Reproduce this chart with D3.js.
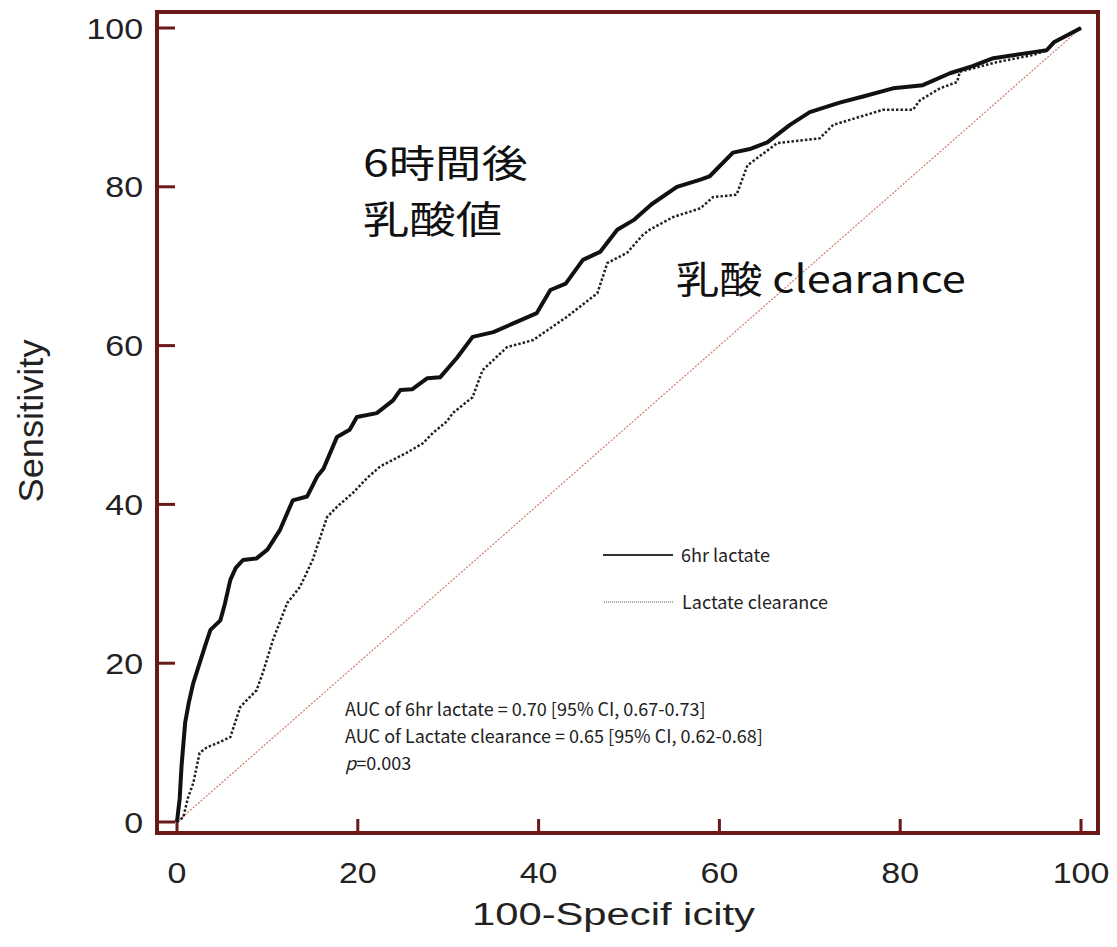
<!DOCTYPE html>
<html>
<head>
<meta charset="utf-8">
<script src="https://cdn.jsdelivr.net/npm/d3@7"></script>
<style>
  body { margin: 0; background: #fff; }
  svg { display: block; }
</style>
</head>
<body>
<div id="chart"></div>
<script>
// tick values on both axes
var xTicks = [0, 20, 40, 60, 80, 100];
var yTicks = [0, 20, 40, 60, 80, 100];

// ROC curve for 6hr lactate: [100-specificity, sensitivity]
var lactate6hr = [
  [0, 0], [0.3, 3], [0.5, 7], [0.9, 12.5], [1.3, 15], [1.8, 17.5], [2.5, 20],
  [3.2, 22.5], [3.7, 24.2], [4.8, 25.4], [5.3, 27.5], [5.9, 30.5], [6.5, 32],
  [7.3, 33], [8.8, 33.2], [10, 34.3], [11.4, 36.8], [12.8, 40.5], [14.4, 41],
  [15.5, 43.5], [16.2, 44.5], [17.7, 48.5], [19.1, 49.4], [19.9, 51], [22.1, 51.5],
  [23.9, 53.1], [24.7, 54.4], [26, 54.5], [27.7, 55.9], [29.1, 56], [31, 58.5],
  [32.7, 61.1], [35, 61.7], [37.2, 62.8], [39.8, 64.1], [41.3, 67], [43, 67.8],
  [44.9, 70.8], [46.8, 71.8], [48.7, 74.6], [50.5, 75.8], [52.5, 77.8], [55.3, 80],
  [57.9, 80.9], [58.9, 81.3], [61.5, 84.3], [63.5, 84.8], [65.3, 85.6], [67.8, 87.8],
  [70, 89.4], [73.3, 90.6], [76, 91.4], [79.2, 92.4], [82.5, 92.8], [85.5, 94.3],
  [88, 95.2], [90.3, 96.2], [94.4, 96.9], [96.2, 97.2], [97, 98.2], [100, 100]
];

// ROC curve for lactate clearance
var lactateClearance = [
  [0, 0], [0.7, 0.6], [1.2, 3], [1.8, 4.9], [2.5, 8.7], [3.3, 9.4], [4.4, 9.9],
  [5.9, 10.7], [7, 14.5], [8.8, 16.6], [9.5, 18.8], [10.6, 22.9], [12.2, 27.6],
  [13.6, 29.6], [15, 33], [16.6, 38.4], [17.7, 39.7], [19.5, 41.5], [21, 43.3],
  [22.5, 44.8], [25.4, 46.5], [27.2, 47.7], [28.3, 49], [29.9, 50.5], [30.5, 51.5],
  [32.7, 53.5], [33.8, 56.9], [36.5, 59.8], [39.4, 60.7], [43.1, 63.6], [46.5, 66.6],
  [47.6, 70.4], [49.8, 71.7], [51.5, 73.9], [52.3, 74.6], [54.9, 76.2], [57.9, 77.3],
  [59.3, 78.7], [61.9, 79], [63.1, 82.7], [66.4, 85.5], [71.1, 86.1], [72.6, 87.8],
  [78.1, 89.7], [81.4, 89.7], [82.2, 90.9], [84.4, 92.4], [86.3, 93.2], [86.6, 94.5],
  [90.7, 95.7], [94.7, 96.6], [96.2, 97.2], [97, 98.2], [100, 100]
];

// chance line
var diagonal = [[0, 0], [100, 100]];

var legendLabels = ["6hr lactate", "Lactate clearance"];
var aucLines = [
  "AUC of 6hr lactate = 0.70 [95% CI, 0.67-0.73]",
  "AUC of Lactate clearance = 0.65 [95% CI, 0.62-0.68]"
];

var W = 1117, H = 947;
var frameColor = "#6b1818";
var axisFont = "'Liberation Sans', Arial, sans-serif";
var stretch = 1.17; // the source picture is a bit wider than tall

var svg = d3.select("#chart").append("svg")
  .attr("width", W)
  .attr("height", H);

var x = d3.scaleLinear().domain([0, 100]).range([177, 1081]);
var y = d3.scaleLinear().domain([0, 100]).range([822, 28]);

// frame box
svg.append("rect")
  .attr("x", 157).attr("y", 12)
  .attr("width", 1098 - 157).attr("height", 833 - 12)
  .attr("fill", "none")
  .attr("stroke", frameColor)
  .attr("stroke-width", 4);

// y ticks (inward from frame)
svg.append("g")
  .selectAll("line")
  .data(yTicks)
  .enter()
  .append("line")
  .attr("x1", 157).attr("x2", 175)
  .attr("y1", (d) => y(d)).attr("y2", (d) => y(d))
  .attr("stroke", frameColor)
  .attr("stroke-width", 3);

svg.append("g")
  .selectAll("text")
  .data(yTicks)
  .enter()
  .append("text")
  .attr("transform", (d) => `translate(143,${y(d) + 10.5}) scale(${stretch},1)`)
  .attr("text-anchor", "end")
  .style("font-family", axisFont)
  .style("font-size", "29px")
  .style("fill", "#222")
  .text((d) => d);

// x ticks
svg.append("g")
  .selectAll("line")
  .data(xTicks)
  .enter()
  .append("line")
  .attr("x1", (d) => x(d)).attr("x2", (d) => x(d))
  .attr("y1", 833).attr("y2", 819)
  .attr("stroke", frameColor)
  .attr("stroke-width", 3);

svg.append("g")
  .selectAll("text")
  .data(xTicks)
  .enter()
  .append("text")
  .attr("transform", (d) => `translate(${x(d)},883) scale(${stretch},1)`)
  .attr("text-anchor", "middle")
  .style("font-family", axisFont)
  .style("font-size", "29px")
  .style("fill", "#222")
  .text((d) => d);

// axis titles
svg.append("text")
  .attr("x", 472).attr("y", 925)
  .attr("textLength", 283)
  .attr("lengthAdjust", "spacingAndGlyphs")
  .style("font-family", axisFont)
  .style("font-size", "31px")
  .style("fill", "#222")
  .text("100-Specif icity");

svg.append("text")
  .attr("transform", `translate(43,421) rotate(-90) scale(1,${stretch})`)
  .attr("text-anchor", "middle")
  .attr("textLength", 163)
  .attr("lengthAdjust", "spacingAndGlyphs")
  .style("font-family", axisFont)
  .style("font-size", "30px")
  .style("fill", "#222")
  .text("Sensitivity");

var line = d3.line()
  .x((d) => x(d[0]))
  .y((d) => y(d[1]));

// reference diagonal
svg.append("path")
  .datum(diagonal)
  .attr("d", line)
  .attr("fill", "none")
  .attr("stroke", "#cf7b6c")
  .attr("stroke-width", 1.2)
  .attr("stroke-dasharray", "2,1.5");

// lactate clearance (dotted)
svg.append("path")
  .datum(lactateClearance)
  .attr("d", line)
  .attr("fill", "none")
  .attr("stroke", "#222")
  .attr("stroke-width", 2.5)
  .attr("stroke-dasharray", "2.5,2");

// 6hr lactate (solid)
svg.append("path")
  .datum(lactate6hr)
  .attr("d", line)
  .attr("fill", "none")
  .attr("stroke", "#111")
  .attr("stroke-width", 4)
  .attr("stroke-linejoin", "round");

// legend
var legend = svg.append("g");
legend.append("line")
  .attr("x1", 603).attr("x2", 673)
  .attr("y1", 555).attr("y2", 555)
  .attr("stroke", "#333").attr("stroke-width", 1.8);
legend.append("line")
  .attr("x1", 604).attr("x2", 673)
  .attr("y1", 602).attr("y2", 602)
  .attr("stroke", "#555").attr("stroke-width", 1.2)
  .attr("stroke-dasharray", "1,1");
legend.selectAll("text")
  .data(legendLabels)
  .enter()
  .append("text")
  .attr("x", (d, i) => (i === 0 ? 681 : 682))
  .attr("y", (d, i) => 562 + i * 47)
  .style("font-family", "'Noto Sans CJK KR', 'Noto Sans', sans-serif")
  .style("font-size", "18px")
  .style("fill", "#222")
  .text((d) => d);

// AUC annotation
var auc = svg.append("g")
  .style("font-family", "'Noto Sans CJK KR', 'Noto Sans', sans-serif")
  .style("font-size", "18px")
  .style("fill", "#222");
auc.selectAll("text")
  .data(aucLines)
  .enter()
  .append("text")
  .attr("x", 345)
  .attr("y", (d, i) => 716 + i * 27)
  .text((d) => d);
var pText = auc.append("text").attr("x", 345).attr("y", 770);
pText.append("tspan").style("font-style", "italic").text("p");
pText.append("tspan").text("=0.003");

// Japanese labels
var jp = svg.append("g")
  .style("font-family", "'Noto Sans CJK JP', sans-serif")
  .style("font-size", "38px")
  .style("fill", "#111");
jp.append("text").attr("transform", "translate(363,177) scale(1.22,1)").text("6時間後");
jp.append("text").attr("transform", "translate(363,233) scale(1.22,1)").text("乳酸値");
jp.append("text").attr("transform", "translate(676,293) scale(1.14,1)").text("乳酸 clearance");
</script>
</body>
</html>
